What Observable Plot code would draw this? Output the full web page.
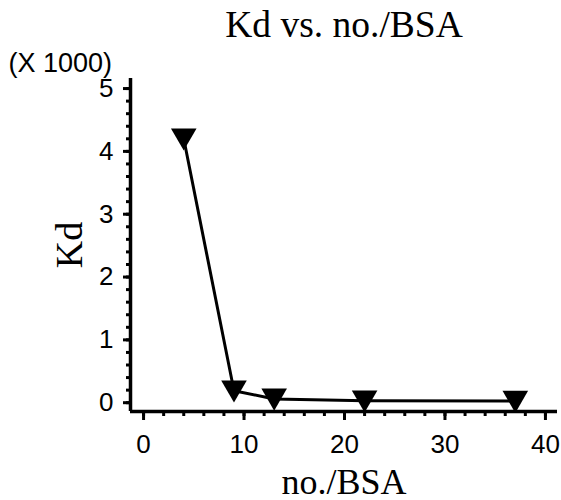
<!DOCTYPE html>
<html>
<head>
<meta charset="utf-8">
<script src="https://cdn.jsdelivr.net/npm/d3@7"></script>
<script src="https://cdn.jsdelivr.net/npm/@observablehq/plot@0.6"></script>
<style>
  html, body { margin: 0; padding: 0; background: #fff; }
</style>
</head>
<body>
<div id="chart"></div>
<script>
// Data (Kd in units of 1000)
const noBSA = [4, 9, 13, 22, 37];
const kd = [4.2, 0.19, 0.06, 0.03, 0.025];

const xMajor = [0, 10, 20, 30, 40];
const xMinor = d3.range(0, 41, 2);
const yMajor = [0, 1, 2, 3, 4, 5];
const yMinor = d3.range(0, 26).map(i => i / 5);

const xDomain = [-1.3, 41.2];
const yDomain = [-0.14, 5.16];

const titleText = ["Kd vs. no./BSA"];
const xLabel = ["no./BSA"];
const yLabel = ["Kd"];
const multiplier = ["(X 1000)"];

const data = noBSA.map((x, i) => ({x, y: kd[i]}));

const sans = "Liberation Sans, Arial, sans-serif";
const serif = "Liberation Serif, Times New Roman, serif";

const chart = Plot.plot({
  width: 561,
  height: 500,
  marginLeft: 130,
  marginRight: 4,
  marginTop: 78,
  marginBottom: 89,
  style: {background: "#fff", color: "#000", overflow: "visible"},
  x: {domain: xDomain, axis: null},
  y: {domain: yDomain, axis: null},
  marks: [
    // minor ticks
    Plot.axisX({ticks: xMinor, tickSize: 5, tickFormat: () => "", strokeWidth: 3, anchor: "bottom", label: null}),
    Plot.axisX({ticks: xMajor, tickSize: 9, tickPadding: 14, tickFormat: d => String(d), strokeWidth: 3, anchor: "bottom",
      fontSize: 26, fontFamily: sans, label: null}),
    Plot.axisY({ticks: yMinor, tickSize: 4, tickFormat: () => "", strokeWidth: 3, anchor: "left", label: null}),
    Plot.axisY({ticks: yMajor, tickSize: 7, tickPadding: 10, tickFormat: d => String(d), strokeWidth: 3, anchor: "left",
      fontSize: 26, fontFamily: sans, label: null}),
    // axis lines
    Plot.ruleX([xDomain[0]], {stroke: "#000", strokeWidth: 3.5}),
    Plot.ruleY([yDomain[0]], {stroke: "#000", strokeWidth: 3.5}),
    // data
    Plot.line(data, {x: "x", y: "y", stroke: "#000", strokeWidth: 3}),
    Plot.dot(data, {x: "x", y: "y", symbol: "triangle", rotate: 180, r: 9.5, fill: "#000", stroke: "none", dy: -3}),
    // texts
    Plot.text(titleText, {frameAnchor: "top", text: d => d, lineAnchor: "bottom", dy: -42,
      fontSize: 37.5, fontFamily: serif, fill: "#000"}),
    Plot.text(multiplier, {frameAnchor: "top-left", text: d => d, textAnchor: "start", lineAnchor: "bottom",
      dx: -122, dy: -7, fontSize: 27, fontFamily: sans, fill: "#000"}),
    Plot.text(xLabel, {frameAnchor: "bottom", text: d => d, lineAnchor: "bottom", dy: 82,
      fontSize: 36, fontFamily: serif, fill: "#000"}),
    Plot.text(yLabel, {frameAnchor: "left", text: d => d, rotate: -90, textAnchor: "middle", lineAnchor: "middle", dx: -61,
      fontSize: 38, fontFamily: serif, fill: "#000"})
  ]
});
document.getElementById("chart").appendChild(chart);
</script>
</body>
</html>
